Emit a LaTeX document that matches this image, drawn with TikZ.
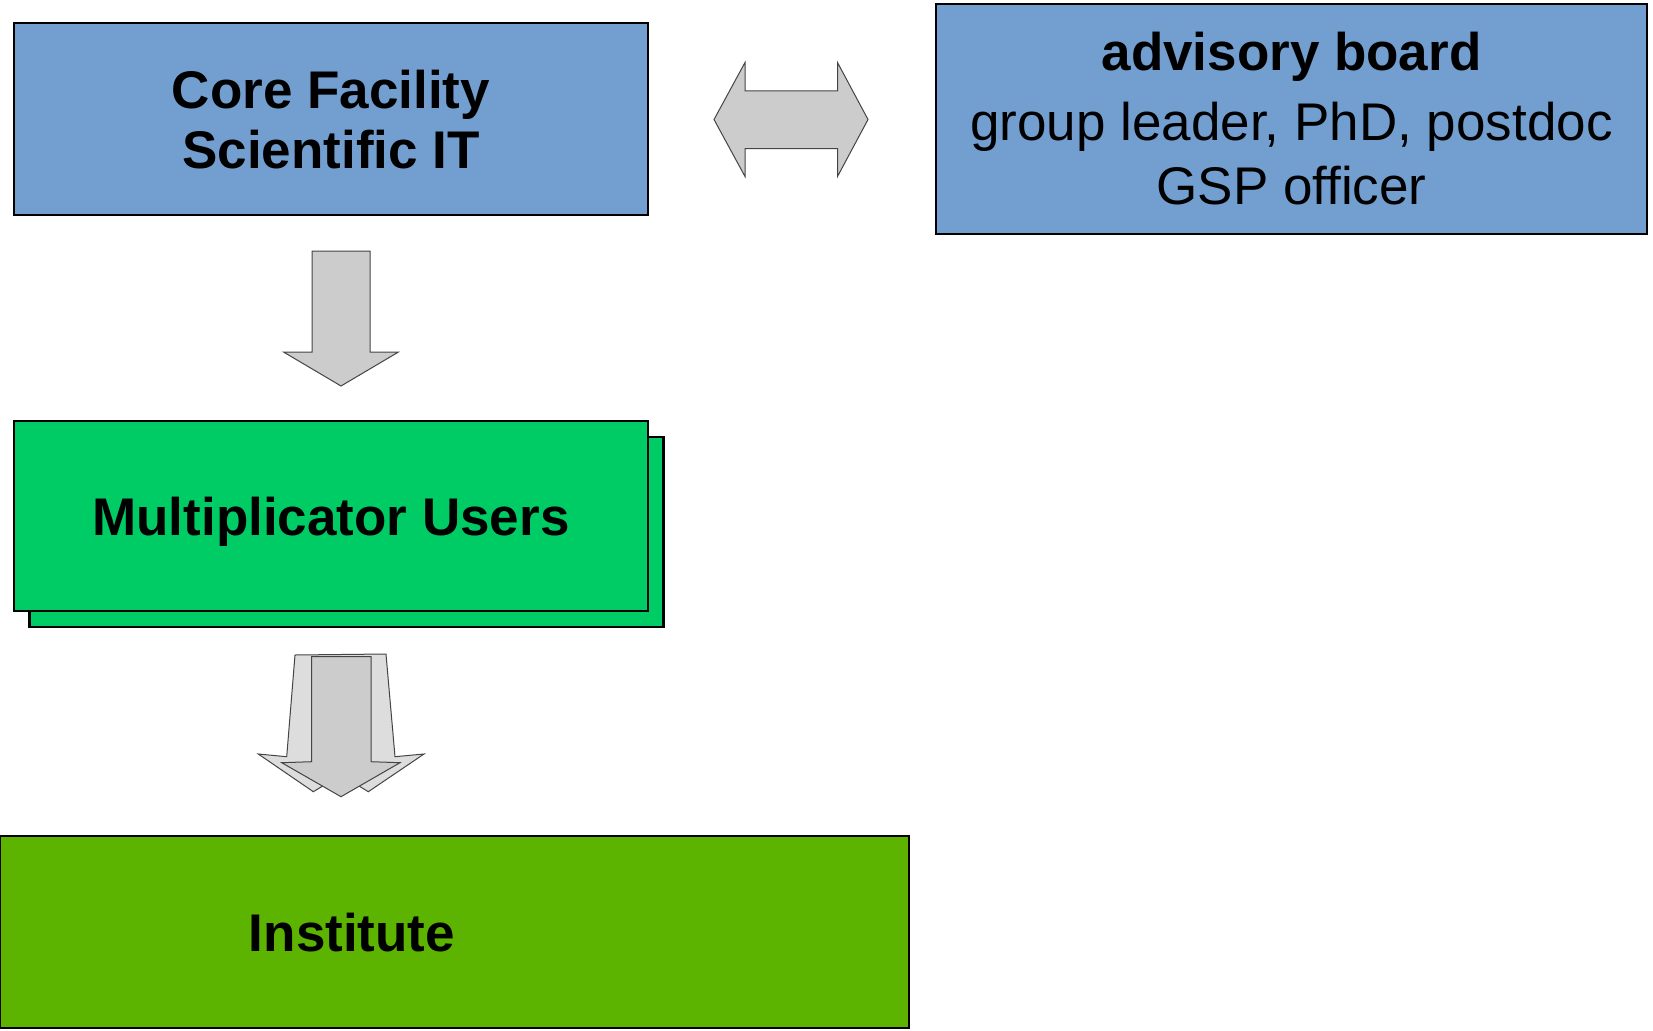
\documentclass[tikz,border=0pt]{standalone}
\usepackage{fontspec}
\setmainfont{Liberation Sans}
\usepackage{tikz}
\usetikzlibrary{positioning}
\usetikzlibrary{calc}

\definecolor{cfblue}{HTML}{729FCF}
\definecolor{mugreen}{HTML}{00CC66}
\definecolor{instgreen}{HTML}{5CB300}
\definecolor{arrowgray}{HTML}{CCCCCC}
\definecolor{arrowlight}{HTML}{DDDDDD}
\definecolor{arrowline}{HTML}{444444}

\begin{document}
\begin{tikzpicture}[x=1pt, y=-1pt]
 \useasboundingbox (0,0) rectangle (1653,1030);

\tikzstyle{box}=[draw=black,line width=2.5pt,outer sep=0pt,inner sep=0pt]
\tikzstyle{title}=[font=\fontsize{53}{60}\selectfont\bfseries,align=center]
\tikzstyle{oneline}=[title,text height=38pt,text depth=0pt]
\tikzstyle{blockarrow}=[fill=arrowgray,draw=arrowline,line width=1pt,line join=miter]

   %draw boxes
    \node (CF) [box,fill=cfblue,minimum width=634pt,minimum height=192pt] at (331,119) {};
    \node (CF_label) [title] at ($(CF.center)+(0,1)$) {Core Facility\\Scientific IT};

    \node (AB) [box,fill=cfblue,minimum width=711pt,minimum height=230pt,font=\fontsize{53}{64}\selectfont,align=center] at (1291.5,119) {\textbf{advisory board}\\[6pt]group leader, PhD, postdoc\\GSP officer};

    \node (MU_back) [box,fill=mugreen,minimum width=634pt,minimum height=190pt] at (346.5,532) {};
    \node (MU) [box,fill=mugreen,minimum width=634pt,minimum height=190pt] at (331,516) {};
    \node (MU_label) [oneline] at (MU.center) {Multiplicator Users};

    \node (I) [box,fill=instgreen,minimum width=909pt,minimum height=192pt] at (454.5,932) {};
    \node (I_label) [oneline] at ($(I.center)+(-102.5,0)$) {Institute};

   %draw arrows
    \draw [blockarrow] (714,119.5) -- (745,62.5) -- (745,91) -- (837.5,91) -- (837.5,62.5) -- (868,119.5)
        -- (837.5,176.5) -- (837.5,148.5) -- (745,148.5) -- (745,176.5) -- cycle;

    \draw [blockarrow] (312,251) -- (370,251) -- (370,352) -- (398.5,352) -- (341,386) -- (283.5,352) -- (312,352) -- cycle;

    %\draw [blockarrow] (MU.south) -- (I.north);
    \draw [blockarrow,fill=arrowlight] (295,655) -- (386,654) -- (395,756.7) -- (424,754) -- (368.3,791.7) -- (341,775)
        -- (313.3,791.7) -- (258.3,754) -- (286.7,756.7) -- cycle;
    \draw [blockarrow] (311.7,656.7) -- (371,656.7) -- (371,761.7) -- (400,762.7) -- (341,796.7) -- (281.7,762.7) -- (311.7,761.7) -- cycle;

\end{tikzpicture}
\end{document}
